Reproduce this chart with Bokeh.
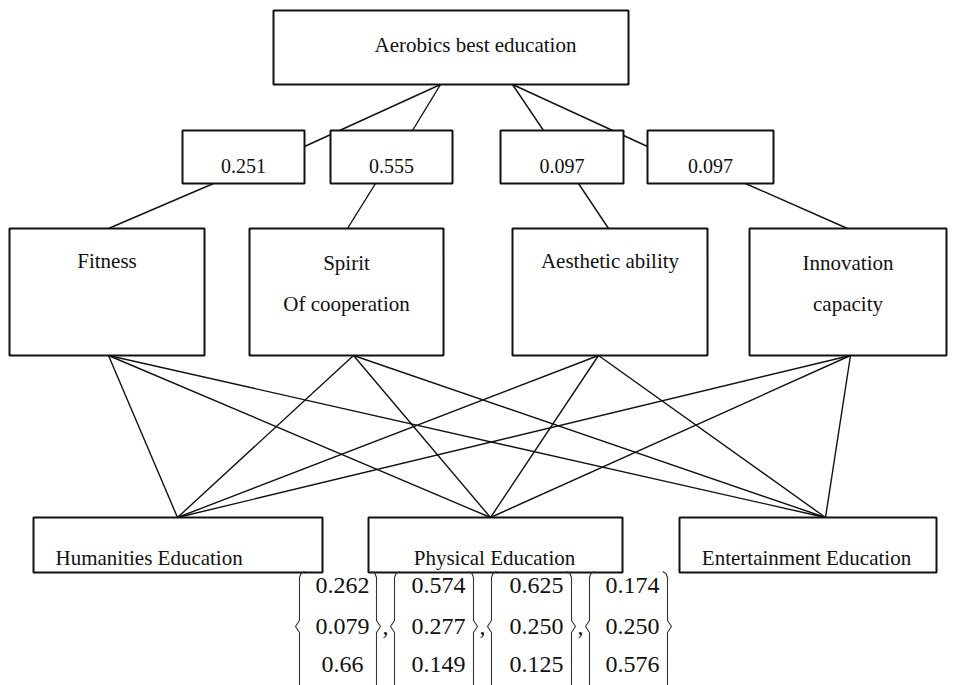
from bokeh.plotting import figure
from bokeh.models import Range1d
from bokeh.core.properties import value
from bokeh.embed import file_html
from bokeh.resources import INLINE

# ---------------- data ----------------
goal = "Aerobics best education"
criteria_line1 = ["Fitness", "Spirit", "Aesthetic ability", "Innovation"]
criteria_line2 = ["", "Of cooperation", "", "capacity"]
weights = ["0.251", "0.555", "0.097", "0.097"]
alternatives = ["Humanities Education", "Physical Education", "Entertainment Education"]
vec_fitness = ["0.262", "0.079", "0.66"]
vec_spirit = ["0.574", "0.277", "0.149"]
vec_aesthetic = ["0.625", "0.250", "0.125"]
vec_innovation = ["0.174", "0.250", "0.576"]
vectors = [vec_fitness, vec_spirit, vec_aesthetic, vec_innovation]

# ---------------- layout (screen-pixel coordinates) ----------------
FONT = value("Liberation Serif")
INK = "#111111"

goal_box = dict(left=273, right=628, top=10, bottom=84)
goal_text_xy = (475, 44)
goal_nodes = [440, 440, 512, 512]

w_left = [182, 330, 500, 647]
w_right = [304, 452, 623, 773]
w_top, w_bottom = 130, 183
w_entry = [(304, 146), (412, 130), (543, 130), (647, 146)]
w_exit = [213, 375, 578, 745]

c_left = [9, 249, 512, 749]
c_right = [204, 443, 707, 946]
c_top, c_bottom = 228, 355
c_entry = [108, 347, 608, 847]
c_exit = [108, 353, 598, 850]
c_text_y1 = [260, 262, 260, 262]
c_text_y2 = 303

a_left = [33, 368, 679]
a_right = [322, 622, 936]
a_top, a_bottom = 517, 572
a_entry = [177, 490, 825]
a_text_x = [55, 494, 806]
a_text_align = ["left", "center", "center"]
a_text_y = 557

v_center = [342, 438, 536, 632]
v_rows = [585, 626, 664]
v_lbrace = [299, 394, 491, 589]
v_rbrace = [376, 473, 571, 667]
v_commas = [385, 482, 580]

W, H = 956, 685
p = figure(width=W, height=H, x_range=Range1d(0, W), y_range=Range1d(H, 0),
           output_backend="svg", toolbar_location=None, min_border=0,
           x_axis_type=None, y_axis_type=None)
p.outline_line_color = None
p.background_fill_color = "white"
p.border_fill_color = "white"

# ---- connecting lines ----
x0, y0, x1, y1 = [], [], [], []
for i in range(4):
    x0.append(goal_nodes[i]); y0.append(goal_box["bottom"])
    x1.append(w_entry[i][0]); y1.append(w_entry[i][1])
    x0.append(w_exit[i]); y0.append(w_bottom)
    x1.append(c_entry[i]); y1.append(c_top)
    for j in range(3):
        x0.append(c_exit[i]); y0.append(c_bottom)
        x1.append(a_entry[j]); y1.append(a_top)
p.segment(x0=x0, y0=y0, x1=x1, y1=y1, line_color=INK, line_width=1.4)

# ---- boxes ----
box_kw = dict(fill_color="white", line_color=INK, line_width=2)
p.quad(left=[goal_box["left"]], right=[goal_box["right"]], top=[goal_box["top"]],
       bottom=[goal_box["bottom"]], **box_kw)
p.quad(left=w_left, right=w_right, top=[w_top] * 4, bottom=[w_bottom] * 4, **box_kw)
p.quad(left=c_left, right=c_right, top=[c_top] * 4, bottom=[c_bottom] * 4, **box_kw)
p.quad(left=a_left, right=a_right, top=[a_top] * 3, bottom=[a_bottom] * 3, **box_kw)

# ---- texts ----
txt_kw = dict(text_font=FONT, text_color=INK, text_baseline="middle")
p.text(x=[goal_text_xy[0]], y=[goal_text_xy[1]], text=[goal], text_align="center",
       text_font_size="21px", **txt_kw)
p.text(x=[(l + r) / 2 for l, r in zip(w_left, w_right)], y=[165] * 4, text=weights,
       text_align="center", text_font_size="20px", **txt_kw)
c_mid = [(l + r) / 2 for l, r in zip(c_left, c_right)]
p.text(x=c_mid, y=c_text_y1, text=criteria_line1, text_align="center",
       text_font_size="21px", **txt_kw)
p.text(x=c_mid, y=[c_text_y2] * 4, text=criteria_line2, text_align="center",
       text_font_size="21px", **txt_kw)
for j in range(3):
    p.text(x=[a_text_x[j]], y=[a_text_y], text=[alternatives[j]], text_align=a_text_align[j],
           text_font_size="21px", **txt_kw)

# ---- vectors ----
vx, vy, vt = [], [], []
for k, vec in enumerate(vectors):
    for r, s in enumerate(vec):
        vx.append(v_center[k]); vy.append(v_rows[r]); vt.append(s)
p.text(x=vx, y=vy, text=vt, text_align="center", text_font_size="24px", **txt_kw)
p.text(x=v_commas, y=[v_rows[1]] * 3, text=[","] * 3, text_align="center",
       text_font_size="24px", **txt_kw)

yt, ym, yb = 571, v_rows[1], 700
bx, by = [], []
for xb in v_lbrace:
    bx.append([xb + 5, xb + 1.5, xb, xb, xb - 4, xb, xb, xb + 1.5, xb + 5])
    by.append([yt, yt + 2, yt + 6, ym - 6, ym, ym + 6, yb - 6, yb - 2, yb])
for xb in v_rbrace:
    bx.append([xb - 5, xb - 1.5, xb, xb, xb + 4, xb, xb, xb - 1.5, xb - 5])
    by.append([yt, yt + 2, yt + 6, ym - 6, ym, ym + 6, yb - 6, yb - 2, yb])
p.multi_line(xs=bx, ys=by, line_color="#333333", line_width=1.1)

open("out.html", "w").write(file_html(p, INLINE))
